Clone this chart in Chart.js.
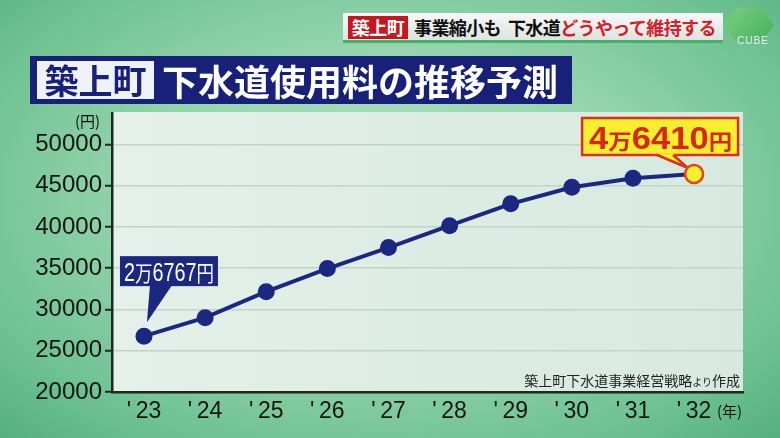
<!DOCTYPE html>
<html><head><meta charset="utf-8">
<script src="https://cdn.jsdelivr.net/npm/chart.js@4"></script>
<style>
html,body{margin:0;padding:0;}
body{width:780px;height:438px;overflow:hidden;position:relative;
 background: radial-gradient(ellipse 75% 80% at 50% 45%, #b3e3c4 0%, #98d6ae 40%, #6fc292 75%, #50ad7a 100%);
 font-family:'Noto Sans CJK JP',sans-serif;}
#c{position:absolute;left:0;top:0;}
.banner{position:absolute;left:343px;top:13px;width:380px;height:27px;background:linear-gradient(#f6f8f7,#dde4e0);border-bottom:3px solid #45b06a;}
.banner .red{position:absolute;left:5px;top:3px;width:60px;height:23px;background:#c8161e;color:#fff;font-weight:700;font-size:18px;line-height:23px;text-align:center;letter-spacing:-0.5px;}
.banner .txt{position:absolute;left:71px;top:0;font-weight:700;font-size:18px;line-height:28px;color:#111;white-space:nowrap;letter-spacing:-0.6px;}
.banner .txt span{color:#d3202a;}
.logo{position:absolute;left:724px;top:8px;width:50px;height:34px;background:linear-gradient(135deg,#7fd07e,#3fae5a);clip-path:polygon(25% 0,75% 0,100% 50%,75% 100%,25% 100%,0 50%);opacity:0.9;}
.logotxt{position:absolute;left:737px;top:35px;font-family:'Liberation Sans',sans-serif;font-size:10px;color:#eef;letter-spacing:1px;}
.title{position:absolute;left:30px;top:56px;width:542px;height:48px;background:#17217a;}
.title .town{position:absolute;left:7px;top:5px;width:117px;height:38px;background:#eef1f6;color:#17217a;font-size:34px;font-weight:700;line-height:38px;text-align:center;}
.title .main{position:absolute;left:132px;top:0;color:#fff;font-size:36px;font-weight:700;line-height:48px;white-space:nowrap;}
.unit{position:absolute;font-size:15px;color:#111;}
.src{position:absolute;right:40px;top:370px;font-size:14px;color:#222;white-space:nowrap;}
.src small{font-size:10px;}
</style>
</head><body>
<div class="banner"><div class="red">築上町</div><div class="txt">事業縮小も&nbsp;&nbsp;下水道<span>どうやって維持する</span></div></div>
<div class="logo"></div><div class="logotxt">CUBE</div>
<canvas id="c" width="780" height="438"></canvas>
<div class="title"><div class="town">築上町</div><div class="main">下水道使用料の推移予測</div></div>
<div class="unit" style="left:75px;top:110px;">(円)</div>
<div class="unit" style="left:717px;top:400px;">(年)</div>
<div class="src">築上町下水道事業経営戦略<small>より</small>作成</div>
<script>
const yearLabels = ["'\u200923","'\u200924","'\u200925","'\u200926","'\u200927","'\u200928","'\u200929","'\u200930","'\u200931","'\u200932"];
const fees = [26767, 29000, 32150, 34950, 37500, 40150, 42800, 44800, 45900, 46410];
const yTicks = [20000, 25000, 30000, 35000, 40000, 45000, 50000];
const lastCallout = [['4','d'],['万','k'],['6410','d'],['円','k']];
const firstCallout = [['2','d'],['万','k'],['6767','d'],['円','k']];

const NAVY = '#1a2882';
const AXIS = '#1d2a22';

function drawFitted(ctx, segs, x, y, targetW){
  let w = 0;
  segs.forEach(s => { ctx.font = s.font; s.w = ctx.measureText(s.t).width; w += s.w; });
  const k = targetW / w;
  ctx.save(); ctx.translate(x, y); ctx.scale(k, 1);
  let cx = 0;
  segs.forEach(s => { ctx.font = s.font; ctx.fillText(s.t, cx, 0); cx += s.w; });
  ctx.restore();
}

const plotBg = {
  id: 'plotBg',
  beforeDraw(chart){
    const {ctx, chartArea: a} = chart;
    const g = ctx.createLinearGradient(a.left, 0, a.right, 0);
    g.addColorStop(0, '#e4f0e9'); g.addColorStop(1, '#d7e9de');
    ctx.save(); ctx.fillStyle = g;
    ctx.fillRect(a.left, a.top - 1, a.right - a.left, a.bottom - a.top + 1);
    ctx.restore();
  }
};

const callouts = {
  id: 'callouts',
  beforeDatasetsDraw(chart){
    const ctx = chart.ctx;
    const pts = chart.getDatasetMeta(0).data;
    const p0 = pts[0], pn = pts[pts.length - 1];
    ctx.save();
    // first callout (navy)
    const bx = p0.x - 24, by = p0.y - 80, bw = 98, bh = 30;
    ctx.fillStyle = NAVY;
    ctx.fillRect(bx, by, bw, bh);
    ctx.beginPath();
    ctx.moveTo(p0.x + 6, by + bh - 1);
    ctx.lineTo(p0.x + 28, by + bh - 1);
    ctx.lineTo(p0.x + 3, p0.y - 14);
    ctx.closePath(); ctx.fill();
    ctx.fillStyle = '#fff'; ctx.textBaseline = 'alphabetic';
    drawFitted(ctx, firstCallout.map(([t, k]) => ({
      t, font: k === 'd' ? '25px "Liberation Sans"' : '22px "Noto Sans CJK JP"'
    })), bx + 4, by + 25, 90);
    // last callout (yellow)
    const cx = pn.x - 112, cy = pn.y - 56, cw = 156, ch = 37;
    ctx.fillStyle = '#f6ee2e'; ctx.strokeStyle = '#d8321c'; ctx.lineWidth = 2.5;
    ctx.fillRect(cx, cy, cw, ch); ctx.strokeRect(cx, cy, cw, ch);
    ctx.beginPath();
    ctx.moveTo(pn.x - 37, cy + ch - 1.5);
    ctx.lineTo(pn.x - 6, pn.y - 6);
    ctx.lineTo(pn.x - 21, cy + ch - 1.5);
    ctx.closePath(); ctx.fill();
    ctx.beginPath();
    ctx.moveTo(pn.x - 37, cy + ch);
    ctx.lineTo(pn.x - 6, pn.y - 6);
    ctx.lineTo(pn.x - 21, cy + ch);
    ctx.stroke();
    ctx.fillStyle = '#d8261b';
    drawFitted(ctx, lastCallout.map(([t, k]) => ({
      t, font: k === 'd' ? 'bold 31px "Liberation Sans"' : 'bold 21px "Noto Sans CJK JP"'
    })), cx + 7, cy + 31, 143);
    ctx.restore();
  }
};

const n = fees.length;
new Chart(document.getElementById('c'), {
  type: 'line',
  data: {
    datasets: [{
      data: fees.map((v, i) => ({x: i, y: v})),
      borderColor: NAVY,
      borderWidth: 4,
      tension: 0,
      pointRadius: fees.map((_, i) => i === n - 1 ? 9 : 8.5),
      pointBackgroundColor: fees.map((_, i) => i === n - 1 ? '#f6ee2e' : NAVY),
      pointBorderColor: fees.map((_, i) => i === n - 1 ? '#e0471a' : NAVY),
      pointBorderWidth: fees.map((_, i) => i === n - 1 ? 2.5 : 0),
      clip: false
    }]
  },
  options: {
    responsive: false,
    devicePixelRatio: 1,
    animation: false,
    events: [],
    layout: {padding: {left: 0, right: 37, top: 113, bottom: 0}},
    plugins: {legend: {display: false}, tooltip: {enabled: false}},
    scales: {
      x: {
        type: 'linear', min: -0.523, max: 9.8,
        afterBuildTicks: s => { s.ticks = yearLabels.map((_, i) => ({value: i})); },
        afterFit: s => { s.height = 46; },
        ticks: {
          callback: v => yearLabels[v],
          font: {family: '"Liberation Sans", sans-serif', size: 23},
          color: '#151515', padding: 6, autoSkip: false, maxRotation: 0
        },
        grid: {display: true, color: 'transparent', drawTicks: false},
        border: {color: AXIS, width: 2.5}
      },
      y: {
        type: 'linear', min: 20000, max: 53800,
        afterBuildTicks: s => { s.ticks = yTicks.map(v => ({value: v})); },
        afterFit: s => { s.width = 112; },
        ticks: {
          callback: v => String(v),
          font: {family: '"Liberation Sans", sans-serif', size: 24},
          color: '#151515', padding: 3
        },
        grid: {color: '#c3d3c9', lineWidth: 1.5, tickColor: AXIS, tickLength: 7, tickWidth: 2},
        border: {color: AXIS, width: 2.5}
      }
    }
  },
  plugins: [plotBg, callouts]
});
</script>
</body></html>
